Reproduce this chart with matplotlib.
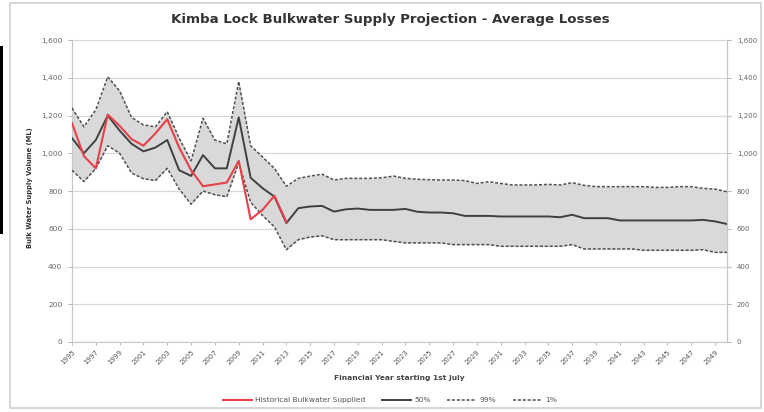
import matplotlib
matplotlib.use("Agg")
import matplotlib.pyplot as plt
import numpy as np
from matplotlib.patches import Rectangle
from matplotlib.lines import Line2D

years = list(range(1995, 2051))

historical = [1160, 985, 920, 1205, 1145, 1075, 1040, 1105, 1180, 1030,
              910, 825, 835, 845, 960, 650, 700, 775, 635]

p50 = [1080, 1000, 1070, 1200, 1120, 1050, 1010, 1030, 1070, 910,
       880, 990, 920, 920, 1190, 870, 815, 770, 630, 709,
       718, 721, 691, 703, 707, 700, 700, 700, 705, 690,
       686, 686, 682, 668, 668, 668, 665, 665, 665, 665,
       665, 661, 674, 656, 656, 656, 644, 644, 644, 644,
       644, 644, 644, 647, 639, 625]

upper = [1240, 1140, 1230, 1405, 1330, 1190, 1150, 1140, 1220, 1080,
         960, 1185, 1070, 1050, 1380, 1040, 980, 920, 825, 867,
         879, 889, 858, 867, 867, 867, 870, 879, 867, 862,
         860, 858, 858, 855, 840, 849, 840, 832, 832, 832,
         835, 832, 844, 830, 823, 823, 823, 823, 823, 819,
         819, 823, 823, 814, 810, 796]

lower = [910, 850, 920, 1040, 1000, 895, 865, 855, 920, 810,
         730, 800, 780, 770, 950, 740, 670, 610, 489, 542,
         556, 563, 542, 542, 542, 542, 542, 533, 525, 525,
         525, 525, 516, 516, 516, 516, 507, 507, 507, 507,
         507, 507, 516, 493, 493, 493, 493, 493, 486, 486,
         486, 486, 486, 489, 475, 475]

yticks = list(range(0, 1601, 200))
xtick_years = list(range(1995, 2050, 2))

title = "Kimba Lock Bulkwater Supply Projection - Average Losses"
xlabel = "Financial Year starting 1st July"
ylabel = "Bulk Water Supply Volume (ML)"
legend_labels = ["Historical Bulkwater Supplied", "50%", "99%", "1%"]

W, H = 764, 412
fig = plt.figure(figsize=(W / 100, H / 100), dpi=100)
fig.patch.set_facecolor("white")

# outer chart border
fig.patches.append(Rectangle((10 / W, 4 / H), 751 / W, 405 / H, transform=fig.transFigure,
                             fill=False, edgecolor="#d0d0d0", lw=1.2))
# black artefact bar at far left
fig.patches.append(Rectangle((0, 1 - 234 / H), 3 / W, 188 / H, transform=fig.transFigure,
                             facecolor="black", edgecolor="none"))

left, right, top, bottom = 72, 727, 40, 342
ax = fig.add_axes([left / W, 1 - bottom / H, (right - left) / W, (bottom - top) / H])

yrs_hist = years[:len(historical)]
dash = (0, (2, 1.2))
ax.fill_between(years, lower, upper, color="#d9d9d9", lw=0, zorder=1)
ax.plot(years, upper, color="#505050", lw=1.1, ls=dash, zorder=3)
ax.plot(years, lower, color="#505050", lw=1.1, ls=dash, zorder=3)
ax.plot(years, p50, color="#404040", lw=1.4, zorder=4)
ax.plot(yrs_hist, historical, color="#e8404a", lw=1.5, zorder=5)

ax.set_xlim(1995, 2050)
ax.set_ylim(0, 1600)
ax.set_yticks(yticks)
ax.yaxis.grid(True, color="#d8d8d8", lw=0.9)
ax.set_axisbelow(True)
ax.set_yticklabels([f"{v:,}" for v in yticks], fontsize=5.4, color="#666666")
ax.set_xticks(xtick_years)
ax.set_xticklabels([str(y) for y in xtick_years], rotation=45, ha="right",
                   rotation_mode="anchor", fontsize=5.0, color="#555555")
ax.tick_params(axis="y", length=3, color="#bbbbbb", pad=4)
ax.tick_params(axis="x", length=2, color="#bbbbbb", pad=3)
for s in ax.spines.values():
    s.set_color("#c8c8c8")
ax.spines["top"].set_visible(False)

ax2 = ax.twinx()
ax2.set_ylim(0, 1600)
ax2.set_yticks(yticks)
ax2.set_yticklabels([f"{v:,}" for v in yticks], fontsize=5.0, color="#666666")
ax2.tick_params(axis="y", length=3, color="#bbbbbb", pad=4)
for s in ax2.spines.values():
    s.set_visible(False)
ax2.spines["right"].set_visible(True)
ax2.spines["right"].set_color("#c8c8c8")

fig.text(390 / W, 1 - 20 / H, title, ha="center", va="center", fontsize=9.6,
         fontweight="bold", color="#333333")
fig.text(399 / W, 1 - 378 / H, xlabel, ha="center", va="center", fontsize=5.4,
         fontweight="bold", color="#444444")
fig.text(30 / W, 1 - 188 / H, ylabel, ha="center", va="center", fontsize=4.9,
         fontweight="bold", color="#333333", rotation=90)

handles = [Line2D([], [], color="#e8404a", lw=1.5),
           Line2D([], [], color="#404040", lw=1.4),
           Line2D([], [], color="#505050", lw=1.1, ls=dash),
           Line2D([], [], color="#505050", lw=1.1, ls=dash)]
fig.legend(handles, legend_labels, loc="center", bbox_to_anchor=(390 / W, 1 - 400 / H),
           ncol=4, frameon=False, fontsize=5.4, handlelength=3.8, columnspacing=2.2,
           handletextpad=0.5, labelcolor="#555555")

fig.savefig("out.png", dpi=100, facecolor="white")
